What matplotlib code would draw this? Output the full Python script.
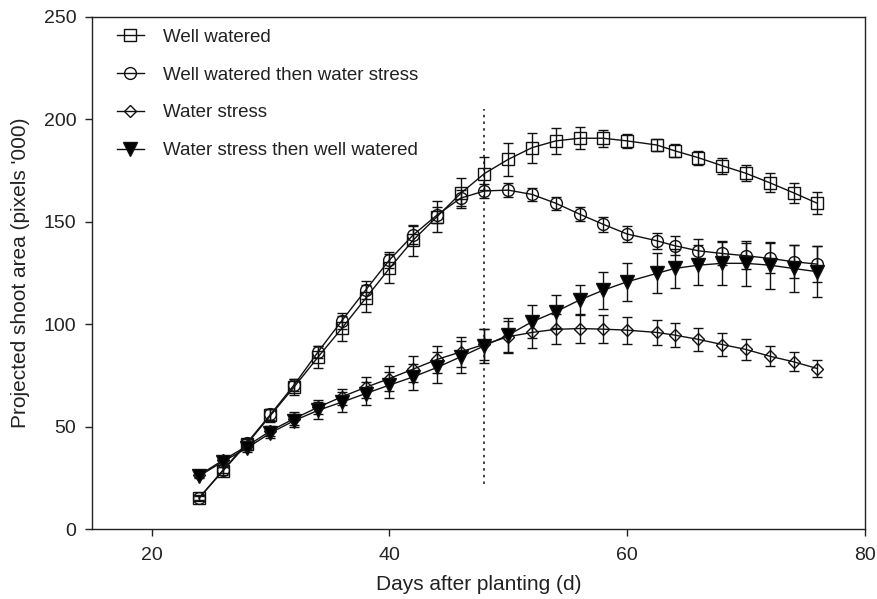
import matplotlib
matplotlib.use("Agg")
import matplotlib.pyplot as plt
from matplotlib.lines import Line2D

plt.rcParams['font.family'] = ['Liberation Sans', 'DejaVu Sans']

days = [24, 26, 28, 30, 32, 34, 36, 38, 40, 42, 44, 46, 48, 50, 52, 54, 56, 58,
        60, 62.5, 64, 66, 68, 70, 72, 74, 76]

well_watered = [15.3, 28.5, 41.5, 55.5, 69.5, 84.0, 98.0, 112.6, 127.2, 141.0, 152.4,
                163.8, 173.5, 180.4, 186.1, 189.4, 190.7, 190.7, 189.4, 187.4, 184.6,
                181.2, 177.3, 173.6, 169.0, 164.1, 159.0]
well_watered_se = [1.5, 2, 2.5, 3, 4, 5.5, 6, 6.5, 7, 7.5, 7.5, 7.3, 8, 7.9, 7.3, 6.3,
                   5.3, 4.2, 3.3, 2.8, 3.2, 3.5, 3.8, 3.9, 4.6, 5.0, 5.4]

ww_then_ws = [15.3, 28.8, 42.0, 56.0, 70.5, 86.5, 101.7, 116.6, 131.3, 143.5, 153.2,
              161.5, 165.0, 165.4, 163.3, 159.0, 153.7, 148.7, 144.0, 140.7, 138.3,
              135.8, 134.5, 133.4, 132.1, 130.5, 129.3]
ww_then_ws_se = [1, 1.5, 2, 2.5, 3, 3, 4, 4.5, 4, 4.4, 4, 3.8, 3.6, 3.3, 3.3, 3.1, 3.3,
                 3.7, 3.8, 4.0, 4.5, 5.7, 5.7, 6.3, 7.3, 8.0, 8.9]

water_stress = [26.4, 33.7, 40.5, 48.0, 54.0, 59.5, 64.6, 69.2, 73.5, 78.1, 82.8, 86.5,
                90.2, 93.9, 96.0, 97.5, 97.9, 97.6, 97.1, 96.0, 94.7, 92.6, 90.1, 87.7,
                84.4, 81.7, 78.4]
water_stress_se = [1, 1.5, 2, 2.5, 3, 3.5, 4, 5, 6, 6.5, 6.5, 7.4, 7.5, 7.8, 7.7, 7.3,
                   6.9, 6.9, 6.5, 6.1, 5.7, 5.5, 5.4, 5.0, 4.9, 4.7, 4.2]

ws_then_ww = [26.0, 33.0, 39.5, 47.0, 53.0, 58.0, 62.0, 66.2, 70.3, 74.3, 78.9, 84.1,
              89.5, 94.7, 101.2, 106.1, 111.8, 116.6, 120.7, 124.8, 127.2, 128.8, 129.7,
              129.7, 128.8, 127.2, 125.6]
ws_then_ww_se = [1, 1.5, 2, 2.5, 3, 4, 5, 5.5, 6.5, 6.5, 7.5, 7.8, 8.3, 8.1, 8.1, 8.1,
                 7.5, 9.1, 9.3, 9.8, 9.3, 9.8, 10.8, 11.0, 11.4, 11.6, 12.4]

labels = ["Well watered", "Well watered then water stress", "Water stress",
          "Water stress then well watered"]
stress_switch_day = 48
x_ticks = [20, 40, 60, 80]
y_ticks = [0, 50, 100, 150, 200, 250]

fig = plt.figure(figsize=(8.78, 5.99), dpi=100)
ax = fig.add_axes([0.105, 0.1164, 0.88, 0.8558])

series = [
    (well_watered, well_watered_se, dict(marker='s', ms=8.5, mfc='none')),
    (ww_then_ws, ww_then_ws_se, dict(marker='o', ms=8.5, mfc='none')),
    (water_stress, water_stress_se, dict(marker='D', ms=6.5, mfc='none')),
    (ws_then_ww, ws_then_ww_se, dict(marker='v', ms=9.5, mfc='black')),
]

handles = []
for (vals, se, style), lab in zip(series, labels):
    ax.errorbar(days, vals, yerr=se, fmt='none', ecolor='#111111', elinewidth=1.0,
                capsize=3.8, capthick=1.0, zorder=2)
    ax.plot(days, vals, color='#111111', lw=1.0, mec='#111111', mew=1.0, zorder=3,
            **style)
    handles.append(Line2D([], [], color='#111111', lw=1.0, mec='#111111', mew=1.0,
                          **style))

ax.vlines(stress_switch_day, 22, 205, colors='#222222', linestyles=(0, (1.5, 2.5)),
          lw=1.2, zorder=1)

ax.set_xlim(15, 80)
ax.set_ylim(0, 250)
ax.set_xticks(x_ticks)
ax.set_yticks(y_ticks)
ax.tick_params(direction='out', length=5, width=1.0, labelsize=14, colors='#222222')
ax.tick_params(axis='x', pad=8)
ax.tick_params(axis='y', pad=6.5)
for sp in ax.spines.values():
    sp.set_color('#222222')
    sp.set_linewidth(1.0)

ax.set_xlabel("Days after planting (d)", fontsize=15, color='#222222', labelpad=8)
ax.set_ylabel("Projected shoot area (pixels '000)", fontsize=15, color='#222222',
              labelpad=10)

leg = ax.legend(handles, labels, loc='upper left', bbox_to_anchor=(0.015, 1.002),
                frameon=False, fontsize=13.5, handlelength=1.45, handletextpad=1.0,
                labelspacing=1.1, borderaxespad=0.3)
for t in leg.get_texts():
    t.set_color('#222222')

fig.savefig("out.png", dpi=100)
